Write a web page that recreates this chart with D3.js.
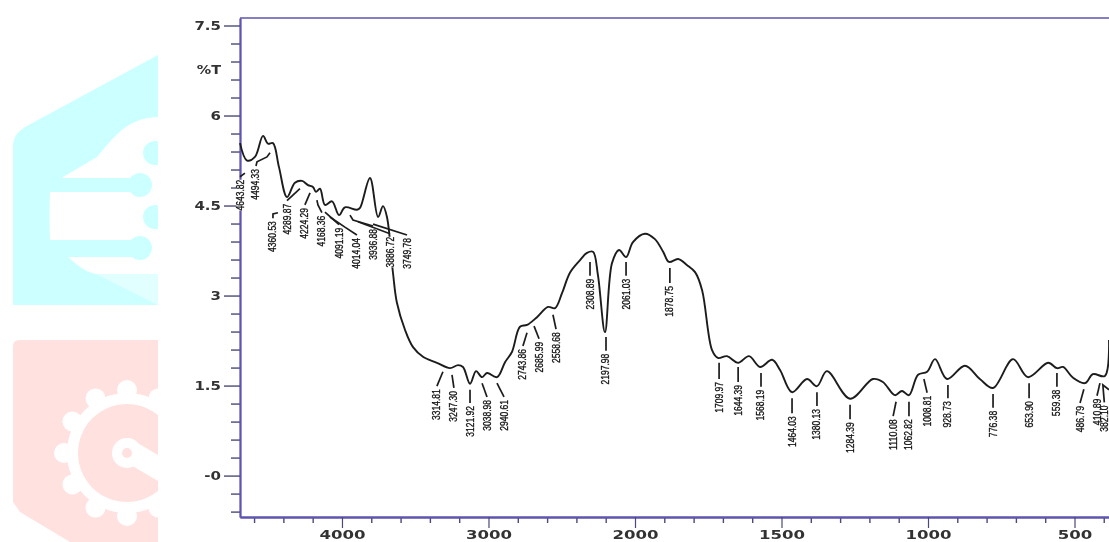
<!DOCTYPE html>
<html>
<head>
<meta charset="utf-8">
<title>FTIR spectrum</title>
<script src="https://cdn.jsdelivr.net/npm/d3@7"></script>
<style>
    body { margin: 0; background: #fff; overflow: hidden; }
    svg { display: block; font-family: "DejaVu Sans", sans-serif; }
</style>
</head>
<body>
<svg id="chart" width="1109" height="542"></svg>
<script>
// spectrum: wavenumber (1/cm) and %T
const waves = [4696, 4648, 4594, 4539, 4505, 4471, 4430, 4375, 4321, 4273, 4232, 4198, 4178, 4150, 4116, 4068, 4020, 3980, 3898, 3877, 3809, 3754, 3720, 3693, 3652, 3625, 3570, 3515, 3447, 3352, 3263, 3208, 3174, 3126, 3085, 3044, 3010, 2942, 2887, 2840, 2785, 2737, 2669, 2594, 2546, 2498, 2444, 2375, 2328, 2287, 2253, 2205, 2157, 2109, 2061, 2014, 1966, 1932, 1904, 1884, 1853, 1823, 1795, 1771, 1737, 1717, 1686, 1648, 1611, 1573, 1532, 1505, 1464, 1413, 1379, 1345, 1266, 1188, 1154, 1113, 1089, 1065, 1034, 1003, 976, 935, 874, 823, 778, 710, 659, 590, 560, 539, 505, 464, 437, 396, 382];
const trans = [5.54, 5.25, 5.31, 5.66, 5.53, 5.54, 5.14, 4.64, 4.88, 4.91, 4.84, 4.81, 4.73, 4.78, 4.51, 4.57, 4.34, 4.47, 4.43, 4.46, 4.96, 4.31, 4.49, 4.31, 3.38, 2.88, 2.43, 2.14, 1.98, 1.88, 1.79, 1.84, 1.81, 1.53, 1.74, 1.64, 1.71, 1.64, 1.89, 2.06, 2.48, 2.51, 2.64, 2.81, 2.79, 3.04, 3.38, 3.59, 3.71, 3.73, 3.34, 2.39, 3.54, 3.76, 3.64, 3.89, 4.03, 3.94, 3.73, 3.56, 3.61, 3.51, 3.39, 3.09, 2.09, 1.96, 1.99, 1.88, 1.99, 1.81, 1.93, 1.76, 1.39, 1.61, 1.49, 1.74, 1.28, 1.61, 1.56, 1.34, 1.41, 1.34, 1.68, 1.73, 1.94, 1.61, 1.83, 1.61, 1.46, 1.94, 1.64, 1.88, 1.79, 1.81, 1.63, 1.54, 1.69, 1.66, 2.26];

// peak labels, and the leader that ties each to the curve as [wave, %T] points
const peakLabels = ["4643.82", "4494.33", "4360.53", "4289.87", "4224.29", "4168.36", "4091.19", "4014.04", "3936.88", "3886.72", "3749.78", "3314.81", "3247.30", "3121.92", "3038.98", "2940.61", "2743.86", "2685.99", "2558.68", "2308.89", "2197.98", "2061.03", "1878.75", "1709.97", "1644.39", "1568.19", "1464.03", "1380.13", "1284.39", "1110.08", "1062.82", "1008.81", "928.73", "776.38", "653.90", "559.38", "486.79", "410.89", "382.10"];
const peakLeaders = [
    [[4662, 5.04], [4696, 4.98]],
    [[4491, 5.38], [4512, 5.31], [4580, 5.23], [4587, 5.16]],
    [[4437, 4.38], [4471, 4.36], [4471, 4.29]],
    [[4287, 4.78], [4375, 4.58]],
    [[4218, 4.71], [4253, 4.51]],
    [[4171, 4.59], [4164, 4.51], [4137, 4.38]],
    [[4116, 4.39], [4020, 4.18]],
    [[4082, 4.31], [3980, 4.14], [3898, 4.01]],
    [[3945, 4.34], [3925, 4.26], [3788, 4.16]],
    [[3891, 4.23], [3672, 4.03]],
    [[3788, 4.19], [3556, 4.01]],
    [[3311, 1.73], [3352, 1.49]],
    [[3249, 1.68], [3236, 1.46]],
    [[3126, 1.43], [3126, 1.21]],
    [[3044, 1.54], [3010, 1.31]],
    [[2942, 1.54], [2894, 1.31]],
    [[2737, 2.38], [2765, 2.16]],
    [[2689, 2.49], [2655, 2.28]],
    [[2560, 2.68], [2539, 2.44]],
    [[2307, 3.56], [2307, 3.33]],
    [[2198, 2.31], [2198, 2.08]],
    [[2061, 3.56], [2061, 3.33]],
    [[1881, 3.46], [1881, 3.21]],
    [[1713, 1.88], [1713, 1.61]],
    [[1648, 1.81], [1648, 1.56]],
    [[1570, 1.71], [1570, 1.48]],
    [[1464, 1.29], [1464, 1.04]],
    [[1379, 1.39], [1379, 1.16]],
    [[1266, 1.18], [1266, 0.94]],
    [[1109, 1.23], [1119, 0.99]],
    [[1065, 1.23], [1065, 0.99]],
    [[1014, 1.61], [1003, 1.38]],
    [[932, 1.51], [932, 1.29]],
    [[778, 1.36], [778, 1.13]],
    [[655, 1.54], [655, 1.29]],
    [[560, 1.71], [560, 1.48]],
    [[468, 1.44], [481, 1.21]],
    [[413, 1.54], [423, 1.33]],
    [[382, 1.43], [403, 1.51], [398, 1.22]]
];

const xMajor = [4000, 3000, 2000, 1500, 1000, 500];
const xMinor = [4600, 4400, 4200, 3800, 3600, 3400, 3200, 2800, 2600, 2400, 2200, 1900, 1800, 1700, 1600, 1400, 1300, 1200, 1100, 900, 800, 700, 600, 400];
const yMajor = [7.5, 6, 4.5, 3, 1.5, 0];
const yMajorLabels = ["7.5", "6", "4.5", "3", "1.5", "-0"];
const yMinor = [7.2, 6.9, 6.6, 6.3, 5.7, 5.4, 5.1, 4.8, 4.2, 3.9, 3.6, 3.3, 2.7, 2.4, 2.1, 1.8, 1.2, 0.9, 0.6, 0.3, -0.3, -0.6];

const svg = d3.select("#chart");

// blurry scan look
const defs = svg.append("defs");
defs.append("filter").attr("id", "soft").append("feGaussianBlur").attr("stdDeviation", 0.5);
defs.append("clipPath").attr("id", "logoClip").append("rect")
    .attr("x", 0).attr("y", 0).attr("width", 158).attr("height", 542);
defs.append("clipPath").attr("id", "plotClip").append("rect")
    .attr("x", 230).attr("y", 0).attr("width", 879).attr("height", 542);

// watermark logos behind the chart
const drawLogos = () => {
    const cyan = "#ccffff", pink = "#ffe2e0";
    const logo = svg.append("g").attr("clip-path", "url(#logoClip)");

    logo.append("path").attr("fill", cyan)
        .attr("d", "M13,143 Q15,133 25,127 L158,55 L158,305 L13,305 Z");
    logo.append("path").attr("fill", "#fff")
        .attr("d", "M158,117 C125,118 112,140 97,157 L63,177 L63,192 L50,192 Q49,216 50,240 L68,257 C78,266 86,272 96,274 L158,274 Z");
    logo.append("path").attr("fill", "#e2ffff")
        .attr("d", "M96,274 L158,274 L158,305 Z");
    logo.append("rect").attr("x", 63).attr("y", 178).attr("width", 77).attr("height", 14).attr("fill", cyan);
    logo.append("rect").attr("x", 50).attr("y", 240).attr("width", 90).attr("height", 17).attr("fill", cyan);
    [[140, 185], [140, 248], [155, 153], [155, 217]].forEach(c => {
        logo.append("circle").attr("cx", c[0]).attr("cy", c[1]).attr("r", 12).attr("fill", cyan);
    });

    logo.append("path").attr("fill", pink)
        .attr("d", "M13,346 Q13,340 20,340 L158,340 L158,542 L70,542 L20,512 L13,502 Z");
    const gear = logo.append("g").attr("transform", "translate(127,453)").attr("fill", "#fff");
    gear.append("circle").attr("r", 60);
    d3.range(12).forEach(i => {
        const a = i * Math.PI / 6;
        gear.append("circle").attr("cx", 63 * Math.cos(a)).attr("cy", 63 * Math.sin(a)).attr("r", 10);
    });
    gear.append("circle").attr("r", 49).attr("fill", pink);
    gear.append("path").attr("d", "M-8,5 L31,28 L31,2 L2,-15 Z");
    gear.append("circle").attr("r", 15);
    gear.append("circle").attr("r", 5).attr("fill", pink);
}
drawLogos();

// the wavenumber axis changes scale at 2000
const x = d3.scaleLinear()
    .domain([4696, 2000, 500, 382])
    .range([240, 635, 1074.5, 1109]);
const y = d3.scaleLinear()
    .domain([-0.69, 7.625])
    .range([517, 18]);

const chart = svg.append("g").attr("filter", "url(#soft)");

// minor and major ticks
const styleAxis = (g) => {
    g.selectAll(".domain").attr("stroke", "#5f55b0").attr("stroke-width", 1.8);
    g.selectAll("line").attr("stroke", "#4b4a78").attr("stroke-width", 1.4);
}

chart.append("g")
    .attr("transform", "translate(0,517)")
    .call(d3.axisBottom(x).tickValues(xMinor).tickSize(6).tickFormat("").tickSizeOuter(0))
    .call(styleAxis);
const xAxisGroup = chart.append("g")
    .attr("transform", "translate(0,517)")
    .call(d3.axisBottom(x).tickValues(xMajor).tickSize(11).tickFormat(d3.format("d")).tickSizeOuter(0))
    .call(styleAxis);
xAxisGroup.selectAll("text")
    .attr("y", 13.5).attr("dy", "0.71em")
    .attr("transform", "scale(1.38,1)")
    .attr("font-size", 12).attr("font-family", "DejaVu Sans")
    .attr("font-weight", 600).attr("fill", "#333");
xAxisGroup.selectAll("line").attr("stroke-width", 1.2);

chart.append("g")
    .attr("transform", "translate(240,0)")
    .call(d3.axisLeft(y).tickValues(yMinor).tickSize(9).tickFormat("").tickSizeOuter(0))
    .call(styleAxis);
const yAxisGroup = chart.append("g")
    .attr("transform", "translate(240,0)")
    .call(d3.axisLeft(y).tickValues(yMajor).tickSize(16)
        .tickFormat((d, i) => yMajorLabels[i]).tickSizeOuter(0))
    .call(styleAxis);
yAxisGroup.selectAll("text")
    .attr("x", -19 / 1.25)
    .attr("transform", "scale(1.25,1)")
    .attr("font-size", 12).attr("font-family", "DejaVu Sans")
    .attr("font-weight", 600).attr("fill", "#333");

// top frame line
chart.append("line")
    .attr("x1", x(4696)).attr("x2", x(382))
    .attr("y1", y(7.625)).attr("y2", y(7.625))
    .attr("stroke", "#5f55b0").attr("stroke-width", 1.6);

chart.append("text")
    .attr("transform", "translate(221,74) scale(1.2,1)")
    .attr("text-anchor", "end")
    .attr("font-size", 12).attr("font-weight", 600).attr("fill", "#333")
    .text("%T");

const plot = chart.append("g").attr("clip-path", "url(#plotClip)");

const line = d3.line()
    .x(d => x(d[0]))
    .y(d => y(d[1]));

plot.append("path")
    .datum(waves.map((w, i) => [w, trans[i]]))
    .attr("fill", "none")
    .attr("stroke", "#1c1c1c")
    .attr("stroke-width", 1.9)
    .attr("stroke-linejoin", "round")
    .attr("d", line.curve(d3.curveCatmullRom.alpha(0.5)));

plot.selectAll("path.leader")
    .data(peakLeaders)
    .join("path")
    .attr("class", "leader")
    .attr("fill", "none")
    .attr("stroke", "#1c1c1c")
    .attr("stroke-width", 1.7)
    .attr("d", line.curve(d3.curveLinear));

// rotated peak labels hang below the end of each leader
const labelPos = (d, i) => {
    const end = peakLeaders[i][peakLeaders[i].length - 1];
    return `translate(${x(end[0])},${y(end[1]) + 3}) rotate(-90)`;
}

// labels knock the curve out behind them, as in the scan
plot.selectAll("rect.peakBack")
    .data(peakLabels)
    .join("rect")
    .attr("class", "peakBack")
    .attr("transform", labelPos)
    .attr("x", d => -d.length * 4.4)
    .attr("y", -3.5)
    .attr("width", d => d.length * 4.4)
    .attr("height", 7)
    .attr("fill", "#fff");

plot.selectAll("text.peak")
    .data(peakLabels)
    .join("text")
    .attr("class", "peak")
    .attr("transform", labelPos)
    .attr("text-anchor", "end")
    .attr("dy", "0.35em")
    .attr("font-family", "Liberation Sans")
    .attr("font-size", 10)
    .attr("textLength", d => d.length * 4.4)
    .attr("lengthAdjust", "spacingAndGlyphs")
    .attr("fill", "#111")
    .attr("stroke", "#111")
    .attr("stroke-width", 0.3)
    .text(d => d);
</script>
</body>
</html>
